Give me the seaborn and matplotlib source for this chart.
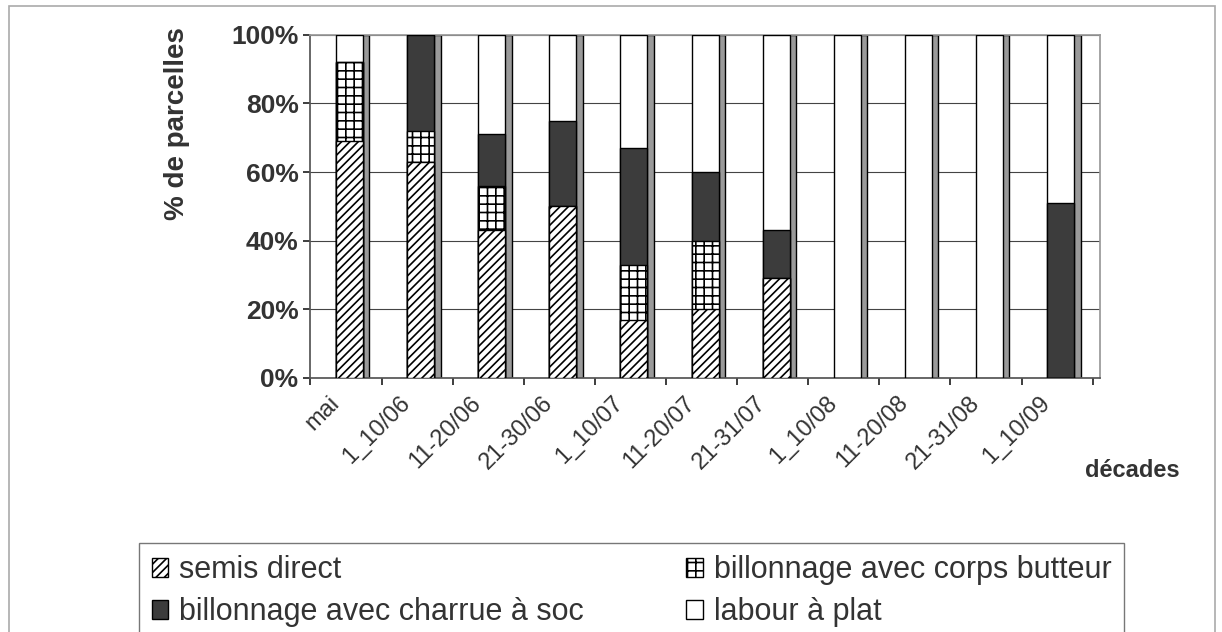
import numpy as np
import pandas as pd
import matplotlib
matplotlib.use("Agg")
import matplotlib.pyplot as plt
from matplotlib.ticker import PercentFormatter
from matplotlib.patches import Patch, Rectangle
import seaborn as sns

decades = ["mai", "1_10/06", "11-20/06", "21-30/06", "1_10/07", "11-20/07",
           "21-31/07", "1_10/08", "11-20/08", "21-31/08", "1_10/09"]
semis_direct = [69, 63, 43, 50, 17, 20, 29, 0, 0, 0, 0]
corps_butteur = [23, 9, 13, 0, 16, 20, 0, 0, 0, 0, 0]
charrue_soc = [0, 28, 15, 25, 34, 20, 14, 0, 0, 0, 51]
labour_plat = [8, 0, 29, 25, 33, 40, 57, 100, 100, 100, 49]

series = ["semis direct", "billonnage avec corps butteur",
          "billonnage avec charrue à soc", "labour à plat"]
colors = ["white", "white", "#3c3c3c", "white"]
hatches = ["////", "++", "", ""]

sns.set_theme(style="white")
plt.rcParams['font.family'] = ['Liberation Sans', 'DejaVu Sans']
plt.rcParams['hatch.linewidth'] = 1.2
txt_col = "#333333"

df = pd.DataFrame({"decade": decades, series[0]: semis_direct, series[1]: corps_butteur,
                   series[2]: charrue_soc, series[3]: labour_plat})
cum = df[series].cumsum(axis=1)

fig = plt.figure(figsize=(12.22, 6.32), dpi=100)
fig.patches.append(Rectangle((0.007, -0.01), 0.987, 1.0, transform=fig.transFigure,
                             fill=False, edgecolor="#aaaaaa", linewidth=1.2))
ax = fig.add_axes([0.254, 0.402, 0.646, 0.543])

# side face (3d look)
sns.barplot(x=[i + 0.2 for i in range(len(decades))], y=cum[series[-1]].values,
            native_scale=True, width=0.16, color="#9a9a9a", edgecolor="black",
            linewidth=1, ax=ax, zorder=2)
# stacked faces: draw totals from top down
for i in range(len(series) - 1, -1, -1):
    sns.barplot(x=list(range(len(decades))), y=cum[series[i]].values, native_scale=True,
                width=0.38, color=colors[i], edgecolor="black", linewidth=1,
                hatch=hatches[i], ax=ax, zorder=3)

n = len(decades)
ax.set_xlim(-0.55, n - 0.45)
ax.set_ylim(0, 100)
ax.set_yticks(range(0, 101, 20))
ax.yaxis.set_major_formatter(PercentFormatter(decimals=0))
ax.yaxis.grid(True, color="#444444", linewidth=0.8)
ax.set_axisbelow(True)
# floor ticks between categories, labels slightly left of each bar
ax.set_xticks([i + 0.45 for i in range(-1, n)], labels=[""] * (n + 1))
ax.set_xticks([i - 0.3 for i in range(n)], labels=decades, minor=True)
plt.setp(ax.get_xticklabels(minor=True), rotation=45, ha="right",
         rotation_mode="anchor", fontsize=17, color=txt_col)
ax.tick_params(axis="x", which="minor", length=0, pad=10)
ax.tick_params(axis="x", which="major", length=5, bottom=True)
ax.tick_params(axis="y", labelsize=19, length=5, left=True, labelcolor=txt_col)
for lab in ax.get_yticklabels():
    lab.set_fontweight("bold")
for s in ["top", "right"]:
    ax.spines[s].set_color("#999999")
ax.spines["left"].set_color("#555555")
ax.spines["bottom"].set_color("#555555")

ax.set_ylabel("% de parcelles", fontsize=20, fontweight="bold", color=txt_col)
ax.yaxis.set_label_coords(-0.152, 0.74)
fig.text(0.927, 0.256, "décades", fontsize=17, fontweight="bold", ha="center",
         va="center", color=txt_col)

handles = [Patch(facecolor=colors[i], edgecolor="black", hatch=hatches[i], label=series[i])
           for i in range(len(series))]
handles = [handles[0], handles[2], handles[1], handles[3]]
leg = fig.legend(handles=handles, loc="upper left", bbox_to_anchor=(0.114, 0.141),
                 ncol=2, fontsize=22, frameon=True, fancybox=False, borderaxespad=0,
                 handlelength=0.55, handleheight=0.55, handletextpad=0.35, borderpad=0.4,
                 labelspacing=0.4, columnspacing=3.35, labelcolor=txt_col)
leg.get_frame().set_edgecolor("#555555")

fig.savefig("out.png", dpi=100)
